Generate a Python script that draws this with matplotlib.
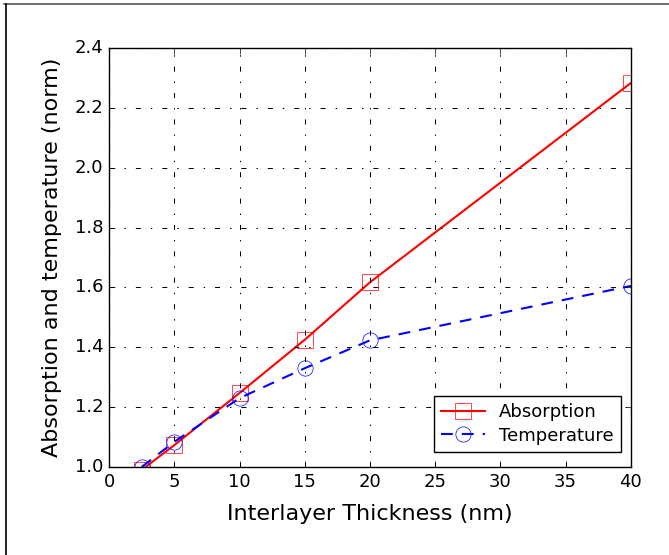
import matplotlib
matplotlib.use("Agg")
import matplotlib.pyplot as plt
from matplotlib.lines import Line2D

# Normalised absorption and temperature versus interlayer thickness
thickness = [2.5, 5, 10, 15, 20, 40]
absorption = [0.99, 1.073, 1.247, 1.425, 1.617, 2.283]
temperature = [1.0, 1.084, 1.23, 1.33, 1.423, 1.605]

plt.style.use("classic")

fig = plt.figure(figsize=(6.69, 5.55), dpi=100, facecolor="white")
ax = fig.add_axes([0.163, 0.1586, 0.78, 0.755])

ax.plot(thickness, absorption, "r-", linewidth=1.5, marker="s", markersize=11,
        markerfacecolor="none", markeredgecolor="red", label="Absorption")
ax.plot(thickness, temperature, "b--", linewidth=1.5, dashes=(8.5, 6.5),
        marker="o", markersize=11, markerfacecolor="none",
        markeredgecolor="blue", label="Temperature")

ax.set_xlim(0, 40)
ax.set_ylim(1.0, 2.4)
ax.set_xticks(range(0, 41, 5))
ax.set_yticks([1.0, 1.2, 1.4, 1.6, 1.8, 2.0, 2.2, 2.4])
ax.tick_params(labelsize=13)
ax.grid(True, color="black", linewidth=0.75, dashes=(3.6, 7.2, 1.0, 7.2))

ax.set_xlabel("Interlayer Thickness (nm)", fontsize=16, labelpad=10)
ax.set_ylabel("Absorption and temperature (norm)", fontsize=16, labelpad=9)

ax.legend(loc="lower right", bbox_to_anchor=(0.981, 0.036), borderaxespad=0,
          numpoints=1, fontsize=13, fancybox=False, handlelength=2.4,
          labelspacing=0.3, borderpad=0.4)

# thin frame along the top and left edges
fig.add_artist(Line2D([0.006, 1.0], [0.993, 0.993], transform=fig.transFigure,
                      color="#555555", linewidth=1.2))
fig.add_artist(Line2D([0.009, 0.009], [0.0, 0.993], transform=fig.transFigure,
                      color="black", linewidth=1.2))

fig.savefig("out.png", dpi=100, facecolor="white")
